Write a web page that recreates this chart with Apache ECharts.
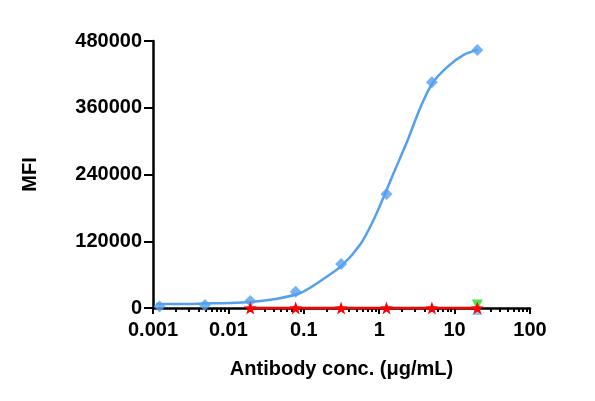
<!DOCTYPE html>
<html>
<head>
<meta charset="utf-8">
<script src="https://cdn.jsdelivr.net/npm/echarts@6/dist/echarts.min.js"></script>
<style>
  html, body { margin: 0; padding: 0; background: #fff; }
  #chart { width: 595px; height: 401px; }
</style>
</head>
<body>
<div id="chart"></div>
<script>
// measured points (4-fold dilution)
const conc = [0.00122, 0.00488, 0.0195, 0.078, 0.3125, 1.25, 5, 20];
const mfiBlue = [2500, 5400, 12600, 29000, 79000, 205000, 406000, 464000];

// fitted curve
const fitX = [0.0011, 0.0023, 0.0049, 0.0105, 0.0194, 0.042, 0.09, 0.166, 0.316, 0.566,
  0.84, 1.15, 1.56, 2.39, 3.55, 5.13, 8.1, 13.2, 20.3];
const fitY = [7200, 7200, 8100, 9000, 10800, 16200, 27000, 48600, 75600, 115000,
  158000, 200000, 243000, 302000, 362000, 405000, 434000, 455000, 464000];

// control antibody (flat at zero)
const concRed = [0.0195, 0.078, 0.3125, 1.25, 5, 20];
const mfiRed = [0, 0, 0, 0, 0, 0];

// other controls, top concentration only
const concGreen = [20];
const mfiGreen = [0];
const mfiIso = [0];

const yTicks = [0, 120000, 240000, 360000, 480000];
const minorTicks = [0.002, 0.003, 0.004, 0.005, 0.006, 0.007, 0.008, 0.009,
  0.02, 0.03, 0.04, 0.05, 0.06, 0.07, 0.08, 0.09,
  0.2, 0.3, 0.4, 0.5, 0.6, 0.7, 0.8, 0.9,
  2, 3, 4, 5, 6, 7, 8, 9,
  20, 30, 40, 50, 60, 70, 80, 90];

const font = "Arial, 'Liberation Sans', sans-serif";
const blue = "#559ff0";

var chartDom = document.getElementById("chart");
var mychart = echarts.init(chartDom);

var option = {
  animation: false,
  grid: { left: 153, right: 65, top: 41, bottom: 93, containLabel: false },
  xAxis: [
    {
      type: "log",
      logBase: 10,
      min: 0.001,
      max: 100,
      name: "Antibody conc. (μg/mL)",
      nameLocation: "middle",
      nameGap: 51,
      nameTextStyle: { color: "#000", fontFamily: font, fontWeight: "bold", fontSize: 20 },
      axisLine: { lineStyle: { color: "#000", width: 2.5 } },
      axisTick: { inside: false, length: 6, lineStyle: { color: "#000", width: 2 } },
      axisLabel: {
        color: "#000", fontFamily: font, fontWeight: "bold", fontSize: 20, margin: 12,
        formatter: function (v) { return String(Number(v.toPrecision(3))); }
      },
      splitLine: { show: false }
    },
    {
      type: "log",
      logBase: 10,
      min: 0.001,
      max: 100,
      position: "bottom",
      axisLine: { show: false },
      axisTick: { show: true, length: 4, customValues: minorTicks, lineStyle: { color: "#000", width: 2 } },
      axisLabel: { show: false },
      splitLine: { show: false }
    }
  ],
  yAxis: {
    type: "value",
    min: 0,
    max: 480000,
    interval: 120000,
    name: "MFI",
    nameLocation: "middle",
    nameGap: 113,
    nameTextStyle: { color: "#000", fontFamily: font, fontWeight: "bold", fontSize: 20 },
    axisLine: { show: true, lineStyle: { color: "#000", width: 2.5 } },
    axisTick: { show: true, length: 9, lineStyle: { color: "#000", width: 2 } },
    axisLabel: {
      color: "#000", fontFamily: font, fontWeight: "bold", fontSize: 20, margin: 11,
      customValues: yTicks,
      formatter: function (v) { return String(v); }
    },
    splitLine: { show: false }
  },
  series: [
    {
      name: "fit",
      type: "line",
      smooth: 0.3,
      showSymbol: false,
      clip: false,
      data: fitX.map((x, i) => [x, fitY[i]]),
      lineStyle: { color: blue, width: 2.5 },
      z: 3
    },
    {
      name: "antibody",
      type: "scatter",
      symbol: "diamond",
      symbolSize: 12,
      clip: false,
      data: conc.map((x, i) => [x, mfiBlue[i]]),
      itemStyle: { color: blue },
      z: 4
    },
    {
      name: "isotype",
      type: "scatter",
      symbol: "triangle",
      symbolSize: 10,
      symbolOffset: [0, 2],
      clip: false,
      data: concGreen.map((x, i) => [x, mfiIso[i]]),
      itemStyle: { color: "#7fb2e8" },
      z: 4
    },
    {
      name: "green",
      type: "scatter",
      symbol: "triangle",
      symbolRotate: 180,
      symbolSize: 11,
      symbolOffset: [0, -3],
      clip: false,
      data: concGreen.map((x, i) => [x, mfiGreen[i]]),
      itemStyle: { color: "#22dd22" },
      z: 5
    },
    {
      name: "control",
      type: "line",
      symbol: "path://M0,-10 L2.35,-3.24 L9.51,-3.09 L3.8,1.24 L5.88,8.09 L0,4 L-5.88,8.09 L-3.8,1.24 L-9.51,-3.09 L-2.35,-3.24 Z",
      symbolSize: 13,
      showSymbol: true,
      clip: false,
      data: concRed.map((x, i) => [x, mfiRed[i]]),
      lineStyle: { color: "#ff0000", width: 2.5 },
      itemStyle: { color: "#ff0000" },
      z: 6
    }
  ]
};

mychart.setOption(option);
</script>
</body>
</html>
